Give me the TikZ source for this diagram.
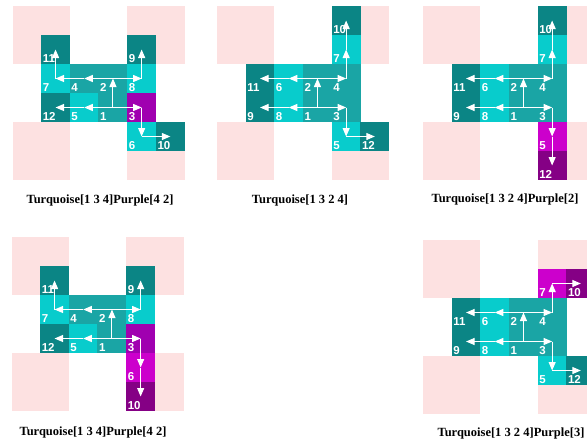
\documentclass[tikz,border=0pt]{standalone}
\usepackage{fontspec}
\setmainfont{Liberation Serif}
\newfontfamily\numfont{Liberation Sans}
\usetikzlibrary{arrows.meta}
\definecolor{blush}{HTML}{FDE1E1}
\definecolor{tqlight}{HTML}{08CCCC}
\definecolor{tqmid}{HTML}{1AA5A5}
\definecolor{tqdark}{HTML}{0B8585}
\definecolor{purplemid}{HTML}{A000B0}
\definecolor{purplebright}{HTML}{CC00CC}
\definecolor{purpledark}{HTML}{850085}
\newcommand{\cw}{28.7}
\newcommand{\ch}{29}

\tikzset{
  tile/.style={minimum width=29pt, minimum height=29.3pt, inner sep=0pt, outer sep=0pt},
  num/.style={anchor=south west, inner sep=1.5pt, text=white,
    font=\numfont\bfseries\fontsize{11.5}{13}\selectfont},
  flow/.style={draw=white, line width=1pt, -{Triangle[length=8.5pt,width=7pt]}},
  captext/.style={font=\bfseries\fontsize{12.5}{14}\selectfont}
}

\begin{document}
\begin{tikzpicture}[x=1pt, y=-1pt]
  \clip (0,0) rectangle (587,445);
  \fill[white] (0,0) rectangle (587,445);

  % panel A
  \begin{scope}[shift={(12.5,6)}]
    \foreach \px/\py in {0/0,4/0,0/4,4/4}
      \fill[blush] ({\px*\cw},{\py*\ch}) rectangle ++({2*\cw},{2*\ch});
    \foreach \c/\r/\col/\n in {1/1/tqdark/11, 4/1/tqdark/9,
        1/2/tqlight/7, 2/2/tqmid/4, 3/2/tqmid/2, 4/2/tqlight/8,
        1/3/tqdark/12, 2/3/tqlight/5, 3/3/tqmid/1, 4/3/purplemid/3,
        4/4/tqlight/6, 5/4/tqdark/10} {
      \node[tile, fill=\col] (A-\n) at ({(\c+0.5)*\cw},{(\r+0.5)*\ch}) {};
      \node[num] (A-\n-num) at (A-\n.south west) {\n};
    }
    \foreach \s/\t in {1/2,2/4,4/7,2/8,7/11,8/9,1/5,5/12,1/3,3/6,6/10}
      \draw[flow] (A-\s.center) -- (A-\t.center);
  \end{scope}
  \node[captext] (capA) at (100,200) {Turquoise[1 3 4]Purple[4 2]};

  % panel B
  \begin{scope}[shift={(217,6)}]
    \foreach \px/\py in {0/0,4/0,0/4,4/4}
      \fill[blush] ({\px*\cw},{\py*\ch}) rectangle ++({2*\cw},{2*\ch});
    \foreach \c/\r/\col/\n in {4/0/tqdark/10, 4/1/tqlight/7,
        1/2/tqdark/11, 2/2/tqlight/6, 3/2/tqmid/2, 4/2/tqmid/4,
        1/3/tqdark/9, 2/3/tqlight/8, 3/3/tqmid/1, 4/3/tqmid/3,
        4/4/tqlight/5, 5/4/tqdark/12} {
      \node[tile, fill=\col] (B-\n) at ({(\c+0.5)*\cw},{(\r+0.5)*\ch}) {};
      \node[num] (B-\n-num) at (B-\n.south west) {\n};
    }
    \foreach \s/\t in {1/2,2/6,6/11,2/4,4/7,7/10,1/8,8/9,1/3,3/5,5/12}
      \draw[flow] (B-\s.center) -- (B-\t.center);
  \end{scope}
  \node[captext] (capB) at (300,200) {Turquoise[1 3 2 4]};

  % panel C
  \begin{scope}[shift={(423,6)}]
    \foreach \px/\py in {0/0,4/0,0/4,4/4}
      \fill[blush] ({\px*\cw},{\py*\ch}) rectangle ++({2*\cw},{2*\ch});
    \foreach \c/\r/\col/\n in {4/0/tqdark/10, 4/1/tqlight/7,
        1/2/tqdark/11, 2/2/tqlight/6, 3/2/tqmid/2, 4/2/tqmid/4,
        1/3/tqdark/9, 2/3/tqlight/8, 3/3/tqmid/1, 4/3/tqmid/3,
        4/4/purplebright/5, 4/5/purpledark/12} {
      \node[tile, fill=\col] (C-\n) at ({(\c+0.5)*\cw},{(\r+0.5)*\ch}) {};
      \node[num] (C-\n-num) at (C-\n.south west) {\n};
    }
    \foreach \s/\t in {1/2,2/6,6/11,2/4,4/7,7/10,1/8,8/9,1/3,3/5,5/12}
      \draw[flow] (C-\s.center) -- (C-\t.center);
  \end{scope}
  \node[captext] (capC) at (505,199) {Turquoise[1 3 2 4]Purple[2]};

  % panel D
  \begin{scope}[shift={(11.5,237)}]
    \foreach \px/\py in {0/0,4/0,0/4,4/4}
      \fill[blush] ({\px*\cw},{\py*\ch}) rectangle ++({2*\cw},{2*\ch});
    \foreach \c/\r/\col/\n in {1/1/tqdark/11, 4/1/tqdark/9,
        1/2/tqlight/7, 2/2/tqmid/4, 3/2/tqmid/2, 4/2/tqlight/8,
        1/3/tqdark/12, 2/3/tqlight/5, 3/3/tqmid/1, 4/3/purplemid/3,
        4/4/purplebright/6, 4/5/purpledark/10} {
      \node[tile, fill=\col] (D-\n) at ({(\c+0.5)*\cw},{(\r+0.5)*\ch}) {};
      \node[num] (D-\n-num) at (D-\n.south west) {\n};
    }
    \foreach \s/\t in {1/2,2/4,4/7,2/8,7/11,8/9,1/5,5/12,1/3,3/6,6/10}
      \draw[flow] (D-\s.center) -- (D-\t.center);
  \end{scope}
  \node[captext] (capD) at (93,432) {Turquoise[1 3 4]Purple[4 2]};

  % panel E
  \begin{scope}[shift={(423,240)}]
    \foreach \px/\py in {0/0,4/0,0/4,4/4}
      \fill[blush] ({\px*\cw},{\py*\ch}) rectangle ++({2*\cw},{2*\ch});
    \foreach \c/\r/\col/\n in {4/1/purplebright/7, 5/1/purpledark/10,
        1/2/tqdark/11, 2/2/tqlight/6, 3/2/tqmid/2, 4/2/tqmid/4,
        1/3/tqdark/9, 2/3/tqlight/8, 3/3/tqmid/1, 4/3/tqmid/3,
        4/4/tqlight/5, 5/4/tqdark/12} {
      \node[tile, fill=\col] (E-\n) at ({(\c+0.5)*\cw},{(\r+0.5)*\ch}) {};
      \node[num] (E-\n-num) at (E-\n.south west) {\n};
    }
    \foreach \s/\t in {1/2,2/6,6/11,2/4,4/7,7/10,1/8,8/9,1/3,3/5,5/12}
      \draw[flow] (E-\s.center) -- (E-\t.center);
  \end{scope}
  \node[captext] (capE) at (511,433) {Turquoise[1 3 2 4]Purple[3]};
\end{tikzpicture}
\end{document}
